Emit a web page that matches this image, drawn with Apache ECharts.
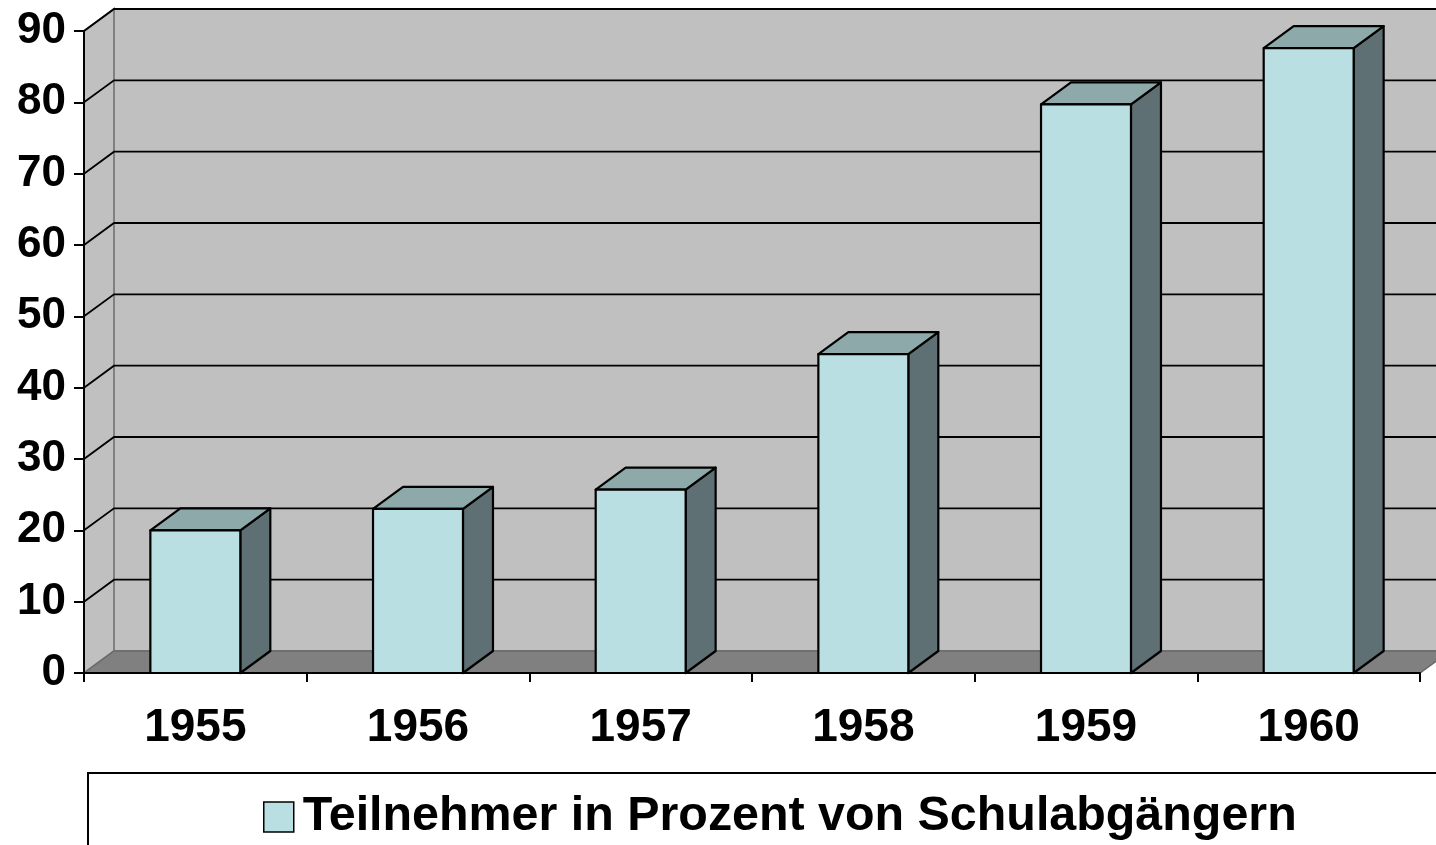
<!DOCTYPE html>
<html>
<head>
<meta charset="utf-8">
<script src="https://cdn.jsdelivr.net/npm/echarts@6/dist/echarts.min.js"></script>
<style>
  html, body { margin: 0; padding: 0; background: #fff; }
  #main { width: 1436px; height: 845px; }
</style>
</head>
<body>
<div id="main"></div>
<script>
// data
const years = ['1955', '1956', '1957', '1958', '1959', '1960'];
const teilnehmer = [20, 23, 25.7, 44.7, 79.7, 87.6];
const yTicks = [0, 10, 20, 30, 40, 50, 60, 70, 80, 90];
const seriesName = 'Teilnehmer in Prozent von Schulabgängern';

const FONT = '"Liberation Sans", Arial, sans-serif';
const DX = 30, DY = -22;   // depth of the 3d box
const WALL = '#c0c0c0', FLOOR = '#808080', EDGE = '#808080';
const FRONT = '#b9dfe2', TOP = '#8ea9aa', SIDE = '#5e7073';

const chart = echarts.init(document.getElementById('main'));

// back wall, side wall, floor, gridlines
function renderWalls(params, api) {
  const cs = params.coordSys;
  const l = cs.x, r = cs.x + cs.width, t = cs.y, b = cs.y + cs.height;
  const kids = [];
  kids.push({ type: 'rect', shape: { x: l + DX, y: t + DY, width: cs.width, height: cs.height },
    style: { fill: WALL, stroke: EDGE, lineWidth: 2 } });
  kids.push({ type: 'polygon', shape: { points: [[l, t], [l + DX, t + DY], [l + DX, b + DY], [l, b]] },
    style: { fill: WALL, stroke: EDGE, lineWidth: 2 } });
  yTicks.forEach(function (v) {
    if (v === 0) return;
    const y = api.coord([0, v])[1];
    kids.push({ type: 'polyline', shape: { points: [[l, y], [l + DX, y + DY], [r + DX + 40, y + DY]] },
      style: { stroke: '#000', lineWidth: 1.8, fill: null } });
  });
  kids.push({ type: 'polygon', shape: { points: [[l, b], [l + DX, b + DY], [r + DX, b + DY], [r, b]] },
    style: { fill: FLOOR, stroke: '#6a6a6a', lineWidth: 1.5 } });
  return { type: 'group', children: kids };
}

function renderBar(params, api) {
  const i = api.value(0), v = api.value(1);
  const p0 = api.coord([i, 0]);
  const p1 = api.coord([i, v]);
  const w = api.size([1, 0])[0] * 0.404;
  const x0 = p0[0] - w / 2, x1 = x0 + w, y0 = p0[1], yt = p1[1];
  const st = { stroke: '#000', lineWidth: 2.2, lineJoin: 'round' };
  return {
    type: 'group',
    children: [
      { type: 'polygon', shape: { points: [[x1, yt], [x1 + DX, yt + DY], [x1 + DX, y0 + DY], [x1, y0]] },
        style: Object.assign({ fill: SIDE }, st) },
      { type: 'polygon', shape: { points: [[x0, yt], [x0 + DX, yt + DY], [x1 + DX, yt + DY], [x1, yt]] },
        style: Object.assign({ fill: TOP }, st) },
      { type: 'rect', shape: { x: x0, y: yt, width: w, height: y0 - yt },
        style: Object.assign({ fill: FRONT }, st) }
    ]
  };
}

const option = {
  backgroundColor: '#fff',
  animation: false,
  grid: { left: 84, right: 16, top: 31, bottom: 172 },
  xAxis: {
    type: 'category',
    data: years,
    z: 5,
    axisLine: { lineStyle: { color: '#000', width: 2 } },
    axisTick: { show: true, length: 9, lineStyle: { color: '#000', width: 2 } },
    axisLabel: { color: '#000', fontFamily: FONT, fontWeight: 'bold', fontSize: 46, margin: 32 },
    splitLine: { show: false }
  },
  yAxis: {
    type: 'value',
    min: 0, max: 90, interval: 10,
    z: 5,
    axisLine: { show: true, lineStyle: { color: '#000', width: 2 } },
    axisTick: { show: true, length: 10, lineStyle: { color: '#000', width: 2 } },
    axisLabel: { color: '#000', fontFamily: FONT, fontWeight: 'bold', fontSize: 44, margin: 18 },
    splitLine: { show: false }
  },
  legend: {
    left: 258, top: 788,
    itemWidth: 30, itemHeight: 30, itemGap: 10,
    icon: 'rect',
    data: [{ name: seriesName, itemStyle: { color: FRONT, borderColor: '#000', borderWidth: 1.5 } }],
    textStyle: { color: '#000', fontFamily: FONT, fontWeight: 'bold', fontSize: 48.4, padding: [0, 0, 0, 4] }
  },
  graphic: [
    { type: 'rect', left: 87, top: 772, shape: { width: 1400, height: 120 },
      style: { fill: '#fff', stroke: '#000', lineWidth: 2 }, z: -1 }
  ],
  series: [
    { type: 'custom', name: 'walls', data: [[0, 0]], renderItem: renderWalls, silent: true, z: 1 },
    { type: 'custom', name: seriesName, data: teilnehmer.map(function (v, i) { return [i, v]; }),
      renderItem: renderBar, itemStyle: { color: FRONT }, z: 3 }
  ]
};
chart.setOption(option);
</script>
</body>
</html>
